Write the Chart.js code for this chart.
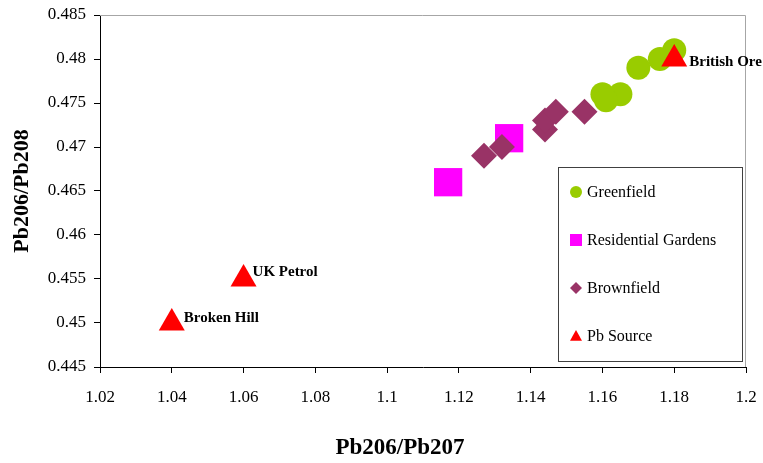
<!DOCTYPE html>
<html>
<head>
<meta charset="utf-8">
<script src="https://cdn.jsdelivr.net/npm/chart.js@4.4.0/dist/chart.umd.min.js"></script>
<style>
  html, body { margin: 0; padding: 0; background: #fff; }
  #wrap { width: 763px; height: 463px; }
</style>
</head>
<body>
<div id="wrap"><canvas id="chart" width="763" height="463"></canvas></div>
<script>
// values
const greenfieldX = [1.180, 1.176, 1.170, 1.165, 1.160, 1.161];
const greenfieldY = [0.481, 0.480, 0.479, 0.476, 0.476, 0.4753];

const gardensX = [1.117, 1.134];
const gardensY = [0.466, 0.471];

const brownfieldX = [1.127, 1.132, 1.144, 1.144, 1.147, 1.155];
const brownfieldY = [0.469, 0.470, 0.472, 0.473, 0.474, 0.474];

const sourceNames = ["Broken Hill", "UK Petrol", "British Ore"];
const sourceX = [1.04, 1.06, 1.18];
const sourceY = [0.450, 0.455, 0.480];

const xTicks = [1.02, 1.04, 1.06, 1.08, 1.1, 1.12, 1.14, 1.16, 1.18, 1.2];
const yTicks = [0.445, 0.45, 0.455, 0.46, 0.465, 0.47, 0.475, 0.48, 0.485];

const xTitle = "Pb206/Pb207";
const yTitle = "Pb206/Pb208";

const SERIF = '"Liberation Serif", "Times New Roman", serif';
Chart.defaults.font.family = SERIF;
Chart.defaults.color = "#000";

// where each source label sits relative to its triangle (px)
const LABEL_NUDGE = {
  "Broken Hill": [12, -5],
  "UK Petrol": [9, -7],
  "British Ore": [15, 3],
};

const pts = (xs, ys) => xs.map((x, i) => ({ x, y: ys[i] }));
const fmtTick = (v) => String(parseFloat(Number(v).toFixed(3)));

// little marker painter, used by the boxed legend
function drawMarker(ctx, style, x, y, r, color) {
  ctx.save();
  ctx.fillStyle = color;
  ctx.beginPath();
  if (style === "circle") {
    ctx.arc(x, y, r, 0, Math.PI * 2);
  } else if (style === "rect") {
    ctx.rect(x - r, y - r, 2 * r, 2 * r);
  } else if (style === "rectRot") {
    ctx.moveTo(x, y - r);
    ctx.lineTo(x + r, y);
    ctx.lineTo(x, y + r);
    ctx.lineTo(x - r, y);
  } else {
    ctx.moveTo(x, y - r);
    ctx.lineTo(x + r, y + r * 0.8);
    ctx.lineTo(x - r, y + r * 0.8);
  }
  ctx.closePath();
  ctx.fill();
  ctx.restore();
}

const frame = {
  id: "frame",
  beforeDatasetsDraw(chart) {
    const { ctx, chartArea: a } = chart;
    ctx.save();
    ctx.strokeStyle = "#a6a6a6";
    ctx.lineWidth = 1;
    ctx.beginPath();
    ctx.moveTo(a.left, a.top + 0.5);
    ctx.lineTo(a.right - 0.5, a.top + 0.5);
    ctx.lineTo(a.right - 0.5, a.bottom);
    ctx.stroke();
    ctx.restore();
  },
};

// x title sits a bit left of the axis centre in the original
const xTitlePlugin = {
  id: "xTitle",
  afterDraw(chart) {
    const { ctx, chartArea: a } = chart;
    ctx.save();
    ctx.font = `bold 23px ${SERIF}`;
    ctx.fillStyle = "#000";
    ctx.textAlign = "center";
    ctx.textBaseline = "middle";
    ctx.fillText(xTitle, (a.left + a.right) / 2 - 23, a.bottom + 81);
    ctx.restore();
  },
};

const sourceLabels = {
  id: "sourceLabels",
  afterDatasetsDraw(chart) {
    const { ctx } = chart;
    const idx = chart.data.datasets.findIndex((d) => d.label === "Pb Source");
    const meta = chart.getDatasetMeta(idx);
    ctx.save();
    ctx.font = `bold 15px ${SERIF}`;
    ctx.fillStyle = "#000";
    ctx.textBaseline = "middle";
    meta.data.forEach((p, i) => {
      const [dx, dy] = LABEL_NUDGE[sourceNames[i]] || [13, -3];
      ctx.fillText(sourceNames[i], p.x + dx, p.y + dy);
    });
    ctx.restore();
  },
};

const boxLegend = {
  id: "boxLegend",
  afterDraw(chart) {
    const { ctx, chartArea: a } = chart;
    const left = a.right - 188, top = a.bottom - 200;
    ctx.save();
    ctx.fillStyle = "#fff";
    ctx.fillRect(left, top, 184, 194);
    ctx.strokeStyle = "#404040";
    ctx.lineWidth = 1;
    ctx.strokeRect(left + 0.5, top + 0.5, 184, 194);
    ctx.font = `16px ${SERIF}`;
    ctx.textBaseline = "middle";
    const sets = chart.data.datasets.slice().sort((p, q) => p.legendRank - q.legendRank);
    sets.forEach((d, i) => {
      const y = top + 25 + i * 48;
      drawMarker(ctx, d.pointStyle, left + 18, y, 6, d.backgroundColor);
      ctx.fillStyle = "#000";
      ctx.fillText(d.label, left + 29, y + 1);
    });
    ctx.restore();
  },
};

new Chart(document.getElementById("chart"), {
  type: "scatter",
  data: {
    datasets: [
      {
        label: "Pb Source", legendRank: 3, order: 1,
        data: pts(sourceX, sourceY),
        pointStyle: "triangle", pointRadius: 15, pointHoverRadius: 15,
        backgroundColor: "#ff0000", borderColor: "#ff0000", borderWidth: 0,
      },
      {
        label: "Greenfield", legendRank: 0, order: 2,
        data: pts(greenfieldX, greenfieldY),
        pointStyle: "circle", pointRadius: 12, pointHoverRadius: 12,
        backgroundColor: "#99cc00", borderColor: "#99cc00", borderWidth: 0,
      },
      {
        label: "Brownfield", legendRank: 2, order: 3,
        data: pts(brownfieldX, brownfieldY),
        pointStyle: "rectRot", pointRadius: 13, pointHoverRadius: 13,
        backgroundColor: "#993366", borderColor: "#993366", borderWidth: 0,
      },
      {
        label: "Residential Gardens", legendRank: 1, order: 4,
        data: pts(gardensX, gardensY),
        pointStyle: "rect", pointRadius: 20, pointHoverRadius: 20,
        backgroundColor: "#ff00ff", borderColor: "#ff00ff", borderWidth: 0,
      },
    ],
  },
  options: {
    responsive: false,
    animation: false,
    events: [],
    layout: { autoPadding: false, padding: { left: 0, top: 15, right: 17, bottom: 0 } },
    plugins: { legend: { display: false }, tooltip: { enabled: false } },
    scales: {
      x: {
        type: "linear", position: "bottom", min: 1.02, max: 1.2,
        afterBuildTicks: (s) => { s.ticks = xTicks.map((v) => ({ value: v })); },
        afterFit: (s) => { s.height = 96; s.paddingLeft = 0; s.paddingRight = 0; },
        grid: { drawOnChartArea: false, tickLength: 6, color: "#000" },
        border: { color: "#000", width: 1 },
        ticks: { font: { size: 17 }, color: "#000", padding: 14, maxRotation: 0, callback: fmtTick },
        title: { display: false },
      },
      y: {
        type: "linear", position: "left", min: 0.445, max: 0.485,
        afterBuildTicks: (s) => { s.ticks = yTicks.map((v) => ({ value: v })); },
        afterFit: (s) => { s.width = 100; s.paddingTop = 0; s.paddingBottom = 0; },
        grid: { drawOnChartArea: false, tickLength: 6, color: "#000" },
        border: { color: "#000", width: 1 },
        ticks: { font: { size: 17 }, color: "#000", padding: 8, callback: fmtTick },
        title: { display: true, text: yTitle, font: { size: 22, weight: "bold" }, padding: { top: 9, bottom: 0 } },
      },
    },
  },
  plugins: [frame, sourceLabels, boxLegend, xTitlePlugin],
});
</script>
</body>
</html>
